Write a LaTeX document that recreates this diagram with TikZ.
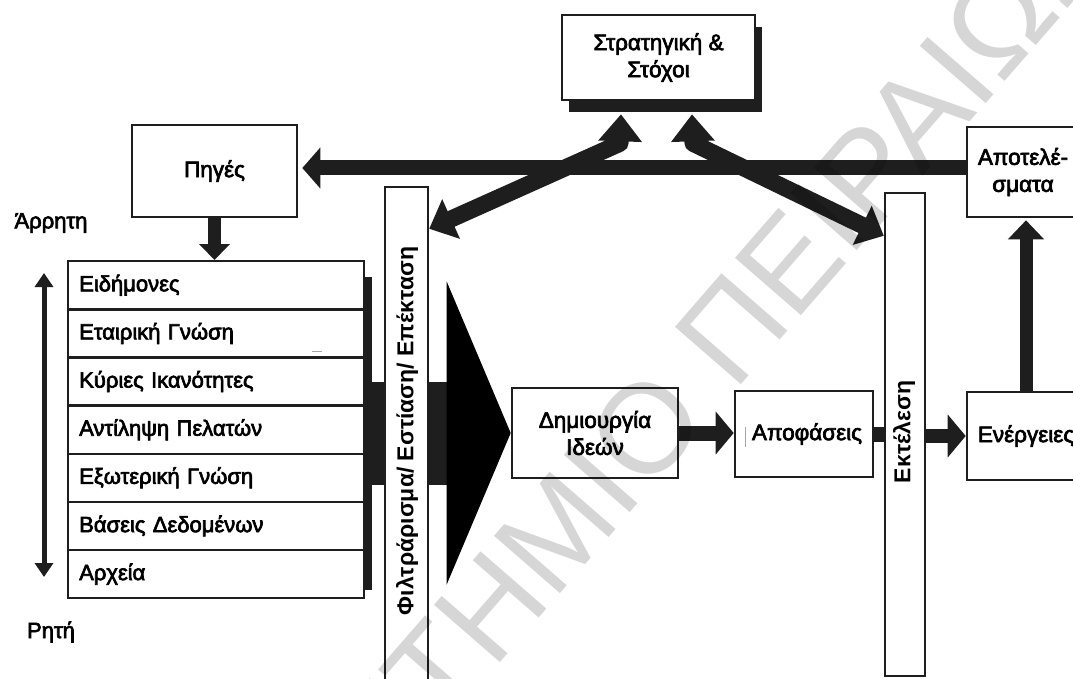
\documentclass[tikz,border=0pt]{standalone}
\usepackage{fontspec}
\setmainfont{Liberation Sans}
\newfontfamily\heavy{Liberation Sans}[FakeBold=3]
\usetikzlibrary{arrows.meta,calc,shadows}
\definecolor{ink}{RGB}{30,30,30}
\begin{document}
\begin{tikzpicture}[x=1pt,y=-1pt,
  box/.style={draw=ink, line width=2.6pt, fill=white, inner sep=0pt, align=center,
    font=\heavy\fontsize{22.5}{27}\selectfont},
  row/.style={draw=ink, line width=2.4pt, fill=white, anchor=north west,
    minimum width=296pt, minimum height=48.14pt, text width=274pt, inner xsep=11pt,
    inner ysep=0pt, align=left, font=\heavy\fontsize{22}{26}\selectfont},
  bar/.style={draw=ink, line width=2.4pt, fill=white, inner sep=0pt},
  bartext/.style={rotate=90, inner sep=0pt, font=\bfseries\fontsize{23}{26}\selectfont},
  lbl/.style={inner sep=0pt, font=\heavy\fontsize{22}{26}\selectfont},
  arr/.style={draw=ink, line width=#1},
  wm/.style={rotate=49, inner sep=0pt, text=black, text opacity=0.16,
    font=\fontsize{127}{127}\selectfont}]
\useasboundingbox (0,0) rectangle (1073,679);
\clip (0,0) rectangle (1073,679);

% main boxes
\node[box, minimum width=193pt, minimum height=85pt,
  drop shadow={shadow xshift=7pt, shadow yshift=-12pt, fill=ink, opacity=1}]
  (strat) at (658.5,57.5) {Στρατηγική \&\\Στόχοι};
\node[box, minimum width=165pt, minimum height=92pt] (sources) at (214.5,171) {Πηγές};
\node[box, minimum width=112pt, minimum height=90pt] (results) at (1023,172) {Αποτελέ-\\σματα};
\node[box, minimum width=166pt, minimum height=90pt] (idea) at (595,433) {Δημιουργία\\Ιδεών};
\node[box, minimum width=138pt, minimum height=86pt] (decide) at (804,434) {\hspace*{6pt}Αποφάσεις};
\node[box, minimum width=112pt, minimum height=88pt] (actions) at (1023,436) {\hspace*{6pt}Ενέργειες};

% knowledge stack
\foreach \t [count=\i] in {Ειδήμονες, Εταιρική Γνώση, Κύριες Ικανότητες, Αντίληψη Πελατών,
    Εξωτερική Γνώση, Βάσεις Δεδομένων, Αρχεία}
  \node[row] (r\i) at (67,{260+48.14*(\i-1)}) {\t};
\fill[ink] ($(r1.north east)+(0,17)$) rectangle ($(r7.south east)+(7,-9)$);

% tacit / explicit scale
\node[lbl] (tacit) at (51,223) {Άρρητη};
\node[lbl] (explicit) at (51,632) {Ρητή};
\coordinate (tacittop) at (44,273);
\coordinate (explicitbot) at (44,577);
\draw[arr=5pt, {Triangle[length=14pt,width=18pt]}-{Triangle[length=14pt,width=18pt]}]
  (tacittop) -- (explicitbot);

% broad arrow from the stack into idea generation
\coordinate (bigbase) at ($(idea.west)+(-64,0)$);
\coordinate (bandtop) at ($(bigbase)+(0,-51.5)$);
\coordinate (bandbot) at ($(bigbase)+(0,51.5)$);
\fill[ink] (r4.east |- bandtop) rectangle (bandbot);
\fill[black] ($(bigbase)+(0,-151.5)$) -- (idea.west) -- ($(bigbase)+(0,151.5)$) -- cycle;

% vertical bars
\node[bar, minimum width=43pt, minimum height=513pt] (filter) at (406.5,443.5) {};
\node[bartext] (filtertext) at (407,431) {Φιλτράρισμα/ Εστίαση/ Επέκταση};
\node[bar, minimum width=40pt, minimum height=483pt] (exec) at (905,434.5) {};
\node[bartext] (exectext) at (904,432) {Εκτέλεση};

% connectors
\draw[arr=13pt, -{Triangle[length=16pt,width=30pt]}] (sources.south) -- (sources.south |- r1.north);
\draw[arr=15pt, -{Triangle[length=18pt,width=40pt]}]
  ($(results.west)+(0,-4)$) -- ($(sources.east)+(4,-3)$);

\coordinate (lt) at ($(strat.south)+(-37.5,13)$);
\coordinate (lb) at ($(strat.south)+(-38.5,42)$);
\coordinate (ll) at ($(filter.north east)+(0,43)$);
\draw[arr=17pt, line join=round, {Triangle[length=24pt,width=42pt]}-{Triangle[length=27pt,width=42pt]}]
  (ll) -- (lb) -- (lt);
\coordinate (rt) at ($(strat.south)+(33.5,13)$);
\coordinate (rb) at ($(strat.south)+(34.5,42)$);
\coordinate (rl) at ($(exec.north west)+(0,44)$);
\draw[arr=17pt, line join=round, {Triangle[length=24pt,width=42pt]}-{Triangle[length=27pt,width=42pt]}]
  (rl) -- (rb) -- (rt);

\draw[arr=15pt, -{Triangle[length=18pt,width=42pt]}] (idea.east) -- (idea.east -| decide.west);
\draw[arr=15pt] (decide.east) -- (decide.east -| exec.west);
\draw[arr=14pt, -{Triangle[length=18pt,width=42pt]}] (exec.east |- actions.west) -- (actions.west);
\draw[arr=13pt, -{Triangle[length=19pt,width=35pt]}] ($(actions.north)+(3,0)$) -- ($(results.south)+(3,2)$);

% small marks
\draw[gray!70, line width=0.8pt] (745,427) -- (745,447);
\draw[gray!70, line width=1pt] (312,351) -- (322,351);

% watermark
\node[wm, anchor=base east] (watermark1) at (711,420) {ΠΑΝΕΠΙΣΤΗΜΙΟ};
\node[wm, anchor=base west] (watermark2) at (734,393) {ΠΕΙΡΑΙΩΣ};
\end{tikzpicture}
\end{document}
